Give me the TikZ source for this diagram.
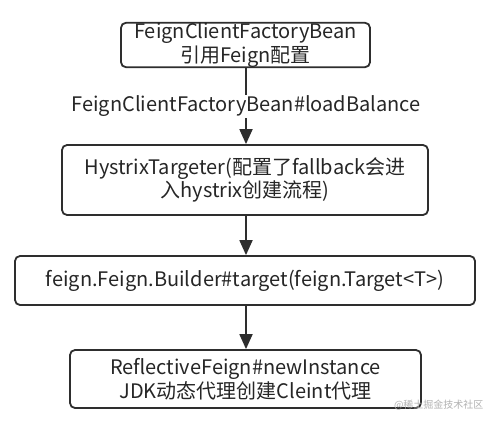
\documentclass[tikz,border=0pt]{standalone}
\usepackage{fontspec}
\setmainfont{Noto Sans CJK SC}
\usetikzlibrary{arrows.meta}
\definecolor{ln}{HTML}{2E2E2E}
\tikzset{
  box/.style={draw=ln, line width=1.8pt, rounded corners=5pt, align=center, inner sep=0pt,
    font=\fontsize{20}{23.5}\selectfont, text=black!85},
  conn/.style={draw=ln, line width=1.8pt, -{Triangle[length=15pt,width=13pt]}},
}
\begin{document}
\begin{tikzpicture}[x=1pt,y=-1pt]
\useasboundingbox[fill=white] (0,0) rectangle (498,425);
\node[box, minimum width=249pt, minimum height=40pt] (b1) at (245.5,45) {FeignClientFactoryBean\\引用Feign配置};
\node[box, minimum width=366pt, minimum height=70pt] (b2) at (245,180) {HystrixTargeter(配置了fallback会进\\入hystrix创建流程)};
\node[box, minimum width=460pt, minimum height=49pt] (b3) at (245,280.5) {feign.Feign.Builder\#target(feign.Target<T>)};
\node[box, minimum width=351pt, minimum height=58pt] (b4) at (245.5,379) {ReflectiveFeign\#newInstance\\JDK动态代理创建Cleint代理};
\draw[conn] (b1.south -| 246,0) -- node[fill=white, inner sep=1pt, font=\fontsize{20}{22}\selectfont, text=black!85] (lbl) {FeignClientFactoryBean\#loadBalance} (b2.north -| 246,0);
\draw[conn] (b2.south -| 246,0) -- (b3.north -| 246,0);
\draw[conn] (b3.south -| 246,0) -- (b4.north -| 246,0);
\node[font=\fontsize{10}{11}\selectfont, text=black!30, anchor=east] (wm) at (487,405) {@稀土掘金技术社区};
\end{tikzpicture}
\end{document}
